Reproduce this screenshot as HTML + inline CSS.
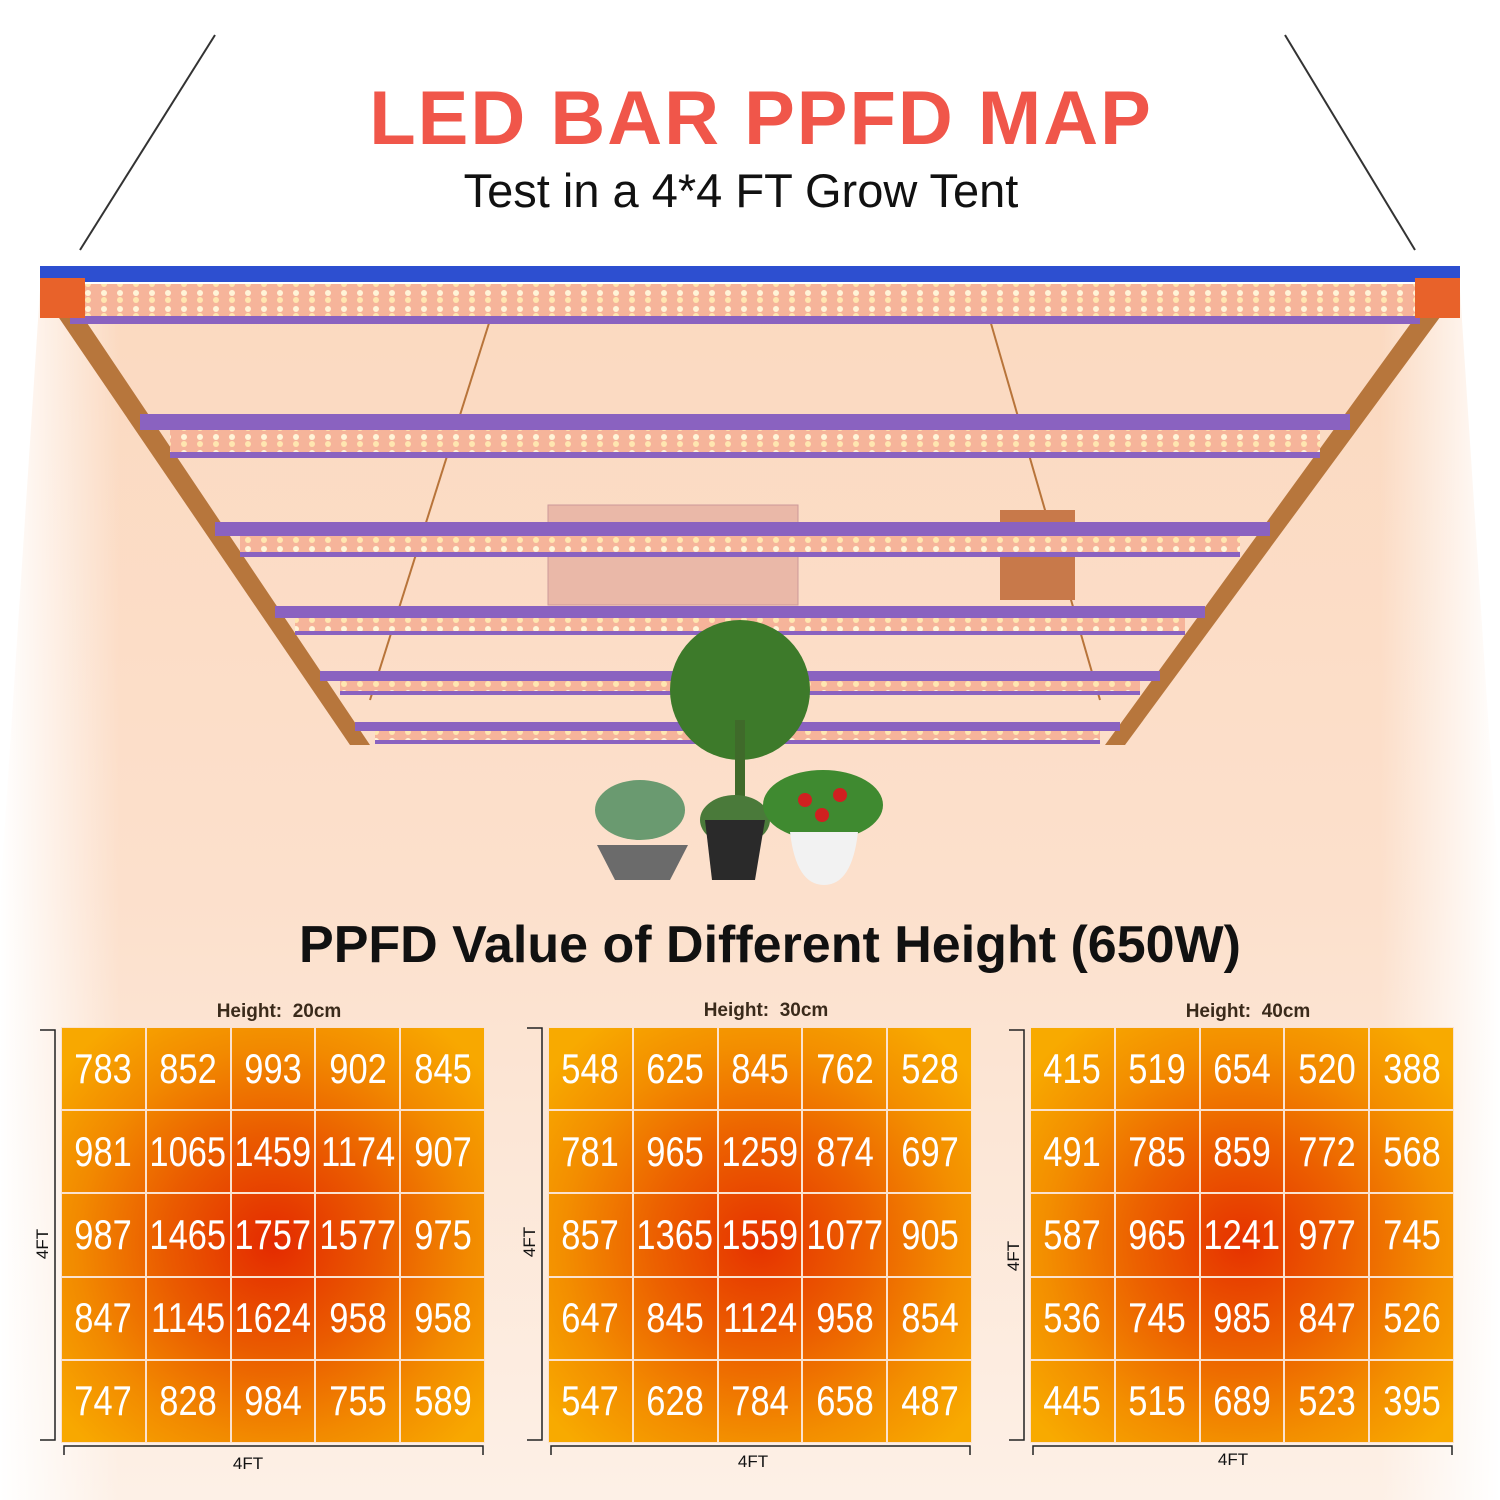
<!DOCTYPE html>
<html><head><meta charset="utf-8"><style>
body{margin:0;width:1500px;height:1500px;overflow:hidden;background:#fff;font-family:"Liberation Sans",sans-serif;position:relative}
.abs{position:absolute}
.t1{left:0;width:1522px;top:75px;text-align:center;font-size:76px;font-weight:bold;color:#f0564a;letter-spacing:2px}
.t2{left:0;width:1482px;top:163px;text-align:center;font-size:47px;color:#111}
.t3{left:0;width:1540px;top:915px;text-align:center;font-size:52px;font-weight:bold;color:#111}
.grid{display:grid;grid-template-columns:repeat(5,minmax(0,1fr));grid-template-rows:repeat(5,minmax(0,1fr));box-sizing:border-box}
.grid div{color:#fff;font-size:42px;display:flex;align-items:center;justify-content:center;border:1.5px solid #fbe2cf;overflow:visible;min-width:0}
.grid span{display:inline-block;transform:scaleX(0.82);white-space:nowrap}
.h{font-size:19px;font-weight:bold;color:#3a2a1a;text-align:center}
</style></head><body>
<svg class="abs" style="left:0;top:0" width="1500" height="1500">
<defs>
<linearGradient id="bg" x1="0" y1="0" x2="0" y2="1">
<stop offset="0" stop-color="#fbd9c0"/><stop offset="0.5" stop-color="#fce0cc"/><stop offset="1" stop-color="#fdf0e6"/>
</linearGradient>
<linearGradient id="fade" x1="0" y1="0" x2="1" y2="0">
<stop offset="0" stop-color="#fff" stop-opacity="1"/><stop offset="0.08" stop-color="#fff" stop-opacity="0"/><stop offset="0.92" stop-color="#fff" stop-opacity="0"/><stop offset="1" stop-color="#fff" stop-opacity="1"/>
</linearGradient>
<pattern id="led" width="16" height="16" patternUnits="userSpaceOnUse"><rect width="16" height="16" fill="#f6b49a"/><circle cx="8" cy="5" r="3" fill="#fff4d8"/><circle cx="8" cy="12" r="3" fill="#ffe6b0"/></pattern>
</defs>
<polygon points="40,290 1460,290 1500,900 1500,1500 0,1500 0,900" fill="url(#bg)"/>
<rect x="0" y="290" width="1500" height="1210" fill="url(#fade)"/>
<line x1="215" y1="35" x2="80" y2="250" stroke="#333" stroke-width="2"/>
<line x1="1285" y1="35" x2="1415" y2="250" stroke="#333" stroke-width="2"/>
<line x1="490" y1="320" x2="370" y2="700" stroke="#b8743a" stroke-width="2"/>
<line x1="990" y1="320" x2="1100" y2="700" stroke="#b8743a" stroke-width="2"/>
<rect x="548" y="505" width="250" height="100" fill="#eab8a8" stroke="#c99"/>
<rect x="1000" y="510" width="75" height="90" fill="#c8794a"/>
<polygon points="40,290 65,290 370,745 350,745" fill="#b7763c"/>
<polygon points="1435,290 1460,290 1125,745 1105,745" fill="#b7763c"/>
<g>
<rect x="40" y="266" width="1420" height="16" fill="#2d4fd0"/>
<rect x="70" y="284" width="1350" height="34" fill="url(#led)"/>
<rect x="70" y="316" width="1350" height="8" fill="#8a62c0"/>
<rect x="40" y="278" width="45" height="40" fill="#e8622a"/>
<rect x="1415" y="278" width="45" height="40" fill="#e8622a"/>
</g>
<g>
<rect x="140" y="414" width="1210" height="16" fill="#8a62c0"/>
<rect x="170" y="430" width="1150" height="24" fill="url(#led)"/>
<rect x="170" y="452" width="1150" height="6" fill="#8a62c0"/>
</g>
<g>
<rect x="215" y="522" width="1055" height="14" fill="#8a62c0"/>
<rect x="240" y="536" width="1000" height="18" fill="url(#led)"/>
<rect x="240" y="552" width="1000" height="5" fill="#8a62c0"/>
</g>
<g>
<rect x="275" y="606" width="930" height="12" fill="#8a62c0"/>
<rect x="295" y="618" width="890" height="14" fill="url(#led)"/>
<rect x="295" y="631" width="890" height="4" fill="#8a62c0"/>
</g>
<g>
<rect x="320" y="671" width="840" height="10" fill="#8a62c0"/>
<rect x="340" y="681" width="800" height="11" fill="url(#led)"/>
<rect x="340" y="691" width="800" height="4" fill="#8a62c0"/>
</g>
<g>
<rect x="355" y="722" width="765" height="9" fill="#8a62c0"/>
<rect x="375" y="731" width="725" height="10" fill="url(#led)"/>
<rect x="375" y="740" width="725" height="4" fill="#8a62c0"/>
</g>
<ellipse cx="740" cy="690" rx="70" ry="70" fill="#3d7a2a"/>
<rect x="735" y="720" width="10" height="100" fill="#3f6a2a"/>
<ellipse cx="640" cy="810" rx="45" ry="30" fill="#6a9a70"/>
<path d="M597,845 L688,845 L670,880 L615,880 Z" fill="#6b6b6b"/>
<ellipse cx="735" cy="820" rx="35" ry="25" fill="#4a7a3a"/>
<path d="M705,820 L765,820 L755,880 L712,880 Z" fill="#2a2a2a"/>
<ellipse cx="823" cy="805" rx="60" ry="35" fill="#3f8a30"/>
<circle cx="805" cy="800" r="7" fill="#d02020"/><circle cx="840" cy="795" r="7" fill="#d02020"/><circle cx="822" cy="815" r="7" fill="#d02020"/>
<path d="M790,832 L858,832 Q852,885 824,885 Q796,885 790,832Z" fill="#f2f2f2"/>
<g stroke="#222" stroke-width="1.5" fill="none">
<polyline points="40,1030 55,1030 55,1440 40,1440"/>
<polyline points="64,1455 64,1446 483,1446 483,1455"/>
<polyline points="527,1028 542,1028 542,1440 527,1440"/>
<polyline points="551,1455 551,1446 970,1446 970,1455"/>
<polyline points="1009,1030 1024,1030 1024,1440 1009,1440"/>
<polyline points="1033,1455 1033,1446 1452,1446 1452,1455"/>
</g>
<g font-family="Liberation Sans" font-size="17" fill="#111">
<text x="248" y="1469" text-anchor="middle">4FT</text>
<text x="753" y="1467" text-anchor="middle">4FT</text>
<text x="1233" y="1465" text-anchor="middle">4FT</text>
<text transform="translate(48,1244) rotate(-90)" text-anchor="middle">4FT</text>
<text transform="translate(535,1242) rotate(-90)" text-anchor="middle">4FT</text>
<text transform="translate(1019,1256) rotate(-90)" text-anchor="middle">4FT</text>
</g>
</svg>
<div class="abs t1">LED BAR PPFD MAP</div>
<div class="abs t2">Test in a 4*4 FT Grow Tent</div>
<div class="abs t3">PPFD Value of Different Height (650W)</div>
<div class="abs h" style="left:62px;width:434px;top:1001px">Height:&nbsp; 20cm</div>
<div class="abs h" style="left:549px;width:434px;top:1000px">Height:&nbsp; 30cm</div>
<div class="abs h" style="left:1031px;width:434px;top:1001px">Height:&nbsp; 40cm</div>
<div class="abs grid" style="left:61px;top:1027px;width:424px;height:416px;background:radial-gradient(circle at 50% 52%,#e42a00 0%,#ea5a00 35%,#f28a00 65%,#f8a800 90%)"><div><span>783</span></div><div><span>852</span></div><div><span>993</span></div><div><span>902</span></div><div><span>845</span></div><div><span>981</span></div><div><span>1065</span></div><div><span>1459</span></div><div><span>1174</span></div><div><span>907</span></div><div><span>987</span></div><div><span>1465</span></div><div><span>1757</span></div><div><span>1577</span></div><div><span>975</span></div><div><span>847</span></div><div><span>1145</span></div><div><span>1624</span></div><div><span>958</span></div><div><span>958</span></div><div><span>747</span></div><div><span>828</span></div><div><span>984</span></div><div><span>755</span></div><div><span>589</span></div></div>
<div class="abs grid" style="left:548px;top:1027px;width:424px;height:416px;background:radial-gradient(circle at 50% 52%,#e63200 0%,#ec6000 35%,#f38e00 65%,#f8aa00 90%)"><div><span>548</span></div><div><span>625</span></div><div><span>845</span></div><div><span>762</span></div><div><span>528</span></div><div><span>781</span></div><div><span>965</span></div><div><span>1259</span></div><div><span>874</span></div><div><span>697</span></div><div><span>857</span></div><div><span>1365</span></div><div><span>1559</span></div><div><span>1077</span></div><div><span>905</span></div><div><span>647</span></div><div><span>845</span></div><div><span>1124</span></div><div><span>958</span></div><div><span>854</span></div><div><span>547</span></div><div><span>628</span></div><div><span>784</span></div><div><span>658</span></div><div><span>487</span></div></div>
<div class="abs grid" style="left:1030px;top:1027px;width:424px;height:416px;background:radial-gradient(circle at 50% 52%,#e63200 0%,#ec6000 35%,#f38e00 65%,#f8aa00 90%)"><div><span>415</span></div><div><span>519</span></div><div><span>654</span></div><div><span>520</span></div><div><span>388</span></div><div><span>491</span></div><div><span>785</span></div><div><span>859</span></div><div><span>772</span></div><div><span>568</span></div><div><span>587</span></div><div><span>965</span></div><div><span>1241</span></div><div><span>977</span></div><div><span>745</span></div><div><span>536</span></div><div><span>745</span></div><div><span>985</span></div><div><span>847</span></div><div><span>526</span></div><div><span>445</span></div><div><span>515</span></div><div><span>689</span></div><div><span>523</span></div><div><span>395</span></div></div>
</body></html>
